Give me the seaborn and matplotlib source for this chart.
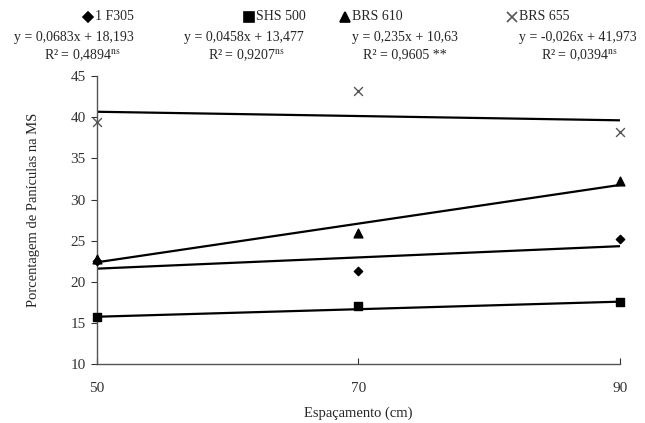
import pandas as pd
import matplotlib.pyplot as plt
import seaborn as sns
from matplotlib.lines import Line2D

# spacing (cm)
espacamento = [50, 70, 90]

# observed values per cultivar
f305 = [22.5, 21.3, 25.2]
shs500 = [15.7, 17.1, 17.5]
brs610 = [22.8, 26.0, 32.3]
brs655 = [39.4, 43.2, 38.2]

cultivares = ["1 F305", "SHS 500", "BRS 610", "BRS 655"]
# regression coefficients (slope, intercept) from the chart
slopes = [0.0683, 0.0458, 0.235, -0.026]
intercepts = [18.193, 13.477, 10.63, 41.973]
equacoes = ["y = 0,0683x + 18,193", "y = 0,0458x + 13,477",
            "y = 0,235x + 10,63", "y = -0,026x + 41,973"]
r2 = ["R² = 0,4894$^{\\mathrm{ns}}$", "R² = 0,9207$^{\\mathrm{ns}}$",
      "R² = 0,9605 **", "R² = 0,0394$^{\\mathrm{ns}}$"]

sns.set_style("ticks")
plt.rcParams['font.family'] = ['Liberation Serif', 'DejaVu Serif']
plt.rcParams['mathtext.fontset'] = 'stix'

rows = []
for nome, vals in zip(cultivares, [f305, shs500, brs610, brs655]):
    for x, y in zip(espacamento, vals):
        rows.append({"Espaçamento": x, "Valor": y, "Cultivar": nome})
df = pd.DataFrame(rows)

linhas = []
for nome, a, b in zip(cultivares, slopes, intercepts):
    for x in [50, 90]:
        linhas.append({"Espaçamento": x, "Valor": a * x + b, "Cultivar": nome})
df_lin = pd.DataFrame(linhas)

markers = {"1 F305": "D", "SHS 500": "s", "BRS 610": "^", "BRS 655": "x"}
sizes = {"1 F305": 18, "SHS 500": 40, "BRS 610": 40, "BRS 655": 40}
cores = {"1 F305": "black", "SHS 500": "black", "BRS 610": "black", "BRS 655": "#555555"}

fig = plt.figure(figsize=(6.45, 4.23), dpi=100)
ax = fig.add_axes([0.150, 0.139, 0.811, 0.681])

sns.lineplot(data=df_lin, x="Espaçamento", y="Valor", units="Cultivar",
             estimator=None, color="black", lw=1.6, ax=ax)
for nome in cultivares:
    sub = df[df["Cultivar"] == nome]
    sns.scatterplot(data=sub, x="Espaçamento", y="Valor", marker=markers[nome],
                    s=sizes[nome], color=cores[nome], edgecolor=cores[nome],
                    linewidth=1.0, ax=ax, zorder=3, clip_on=False)

ax.set_xlim(50, 90)
ax.set_ylim(10, 45)
ax.set_xticks(espacamento)
ax.set_yticks(range(10, 46, 5))
ax.tick_params(labelsize=11, length=4, width=0.8, colors="#333333")
ax.tick_params(axis="x", direction="in", pad=13)
ax.tick_params(axis="y", pad=4)
for s in ["left", "bottom"]:
    ax.spines[s].set_color("#555555")
    ax.spines[s].set_linewidth(1.0)
sns.despine(ax=ax)
ax.set_xlabel("Espaçamento (cm)", fontsize=10.5, labelpad=8)
ax.set_ylabel("Porcentagem de Panículas na MS", fontsize=10.5)
ax.yaxis.set_label_coords(-0.108, 0.535)

# legend above the axes
leg_x = [88, 249, 345, 512]
eq_x = [74, 244, 405, 578]
r2_x = [82, 246, 405, 579]
W, H = 645, 423
for i, nome in enumerate(cultivares):
    fig.add_artist(Line2D([leg_x[i] / W], [1 - 17 / H], marker=markers[nome],
                          color=cores[nome], markersize=5 if nome == "1 F305" else 7,
                          mew=1.2, linestyle="none"))
    fig.text((leg_x[i] + 7) / W, 1 - 17 / H, nome, fontsize=10, va="center", ha="left")
    fig.text(eq_x[i] / W, 1 - 38 / H, equacoes[i], fontsize=10, va="center", ha="center")
    fig.text(r2_x[i] / W, 1 - 55 / H, r2[i], fontsize=10, va="center", ha="center")

fig.savefig("out.png", dpi=100)
